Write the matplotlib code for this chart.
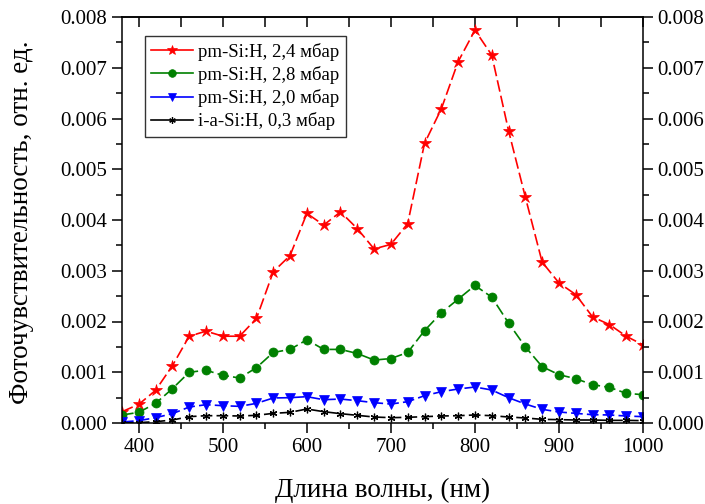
import numpy as np
import matplotlib
matplotlib.use('Agg')
import matplotlib.pyplot as plt
from matplotlib.lines import Line2D
from matplotlib.ticker import MultipleLocator

plt.rcParams['font.family'] = ['Liberation Serif', 'DejaVu Serif']

# длины волн, нм
wl = [380, 400, 420, 440, 460, 480, 500, 520, 540, 560, 580, 600, 620, 640, 660, 680,
      700, 720, 740, 760, 780, 800, 820, 840, 860, 880, 900, 920, 940, 960, 980, 1000]

pm24 = [0.000223, 0.000368, 0.000644, 0.00113, 0.00171, 0.00181, 0.00171, 0.00171,
        0.00206, 0.00298, 0.00330, 0.00413, 0.00390, 0.00416, 0.00383, 0.00343,
        0.00352, 0.00393, 0.00551, 0.00619, 0.00712, 0.00774, 0.00725, 0.00576,
        0.00445, 0.00317, 0.00276, 0.00253, 0.00209, 0.00194, 0.00171, 0.00154]

pm28 = [0.000158, 0.000210, 0.000387, 0.000677, 0.00100, 0.00104, 0.000939, 0.000887,
        0.00109, 0.00139, 0.00145, 0.00164, 0.00145, 0.00145, 0.00137, 0.00124,
        0.00127, 0.00139, 0.00182, 0.00217, 0.00244, 0.00271, 0.00248, 0.00197,
        0.00150, 0.00111, 0.000952, 0.000873, 0.000755, 0.000703, 0.000585, 0.000558]

pm20 = [0.00002, 0.000046, 0.000105, 0.000184, 0.000315, 0.000361, 0.000341, 0.000328,
        0.000387, 0.000493, 0.000499, 0.000519, 0.000459, 0.000472, 0.000440, 0.000400,
        0.000374, 0.000420, 0.000538, 0.000617, 0.000670, 0.000709, 0.000650, 0.000499,
        0.000374, 0.000269, 0.000217, 0.000190, 0.000164, 0.000158, 0.000138, 0.000125]

ia03 = [0.000003, 0.000007, 0.000026, 0.000059, 0.000125, 0.000144, 0.000144, 0.000138,
        0.000151, 0.000190, 0.000210, 0.000276, 0.000223, 0.000184, 0.000151, 0.000118,
        0.000105, 0.000112, 0.000125, 0.000138, 0.000144, 0.000158, 0.000144, 0.000118,
        0.000099, 0.000072, 0.000066, 0.000059, 0.000059, 0.000052, 0.000052, 0.000046]

labels = ['pm-Si:H, 2,4 мбар', 'pm-Si:H, 2,8 мбар', 'pm-Si:H, 2,0 мбар', 'i-a-Si:H, 0,3 мбар']

fig = plt.figure(figsize=(7.05, 5.04), dpi=100)
ax = fig.add_axes([122/705, 81/504, 521/705, 406/504])

dash = (0, (7, 2.5))
styles = [
    (pm24, 'red', '*', 9),
    (pm28, 'green', 'o', 6.5),
    (pm20, 'blue', 'v', 7.5),
    (ia03, 'black', (6, 2, 0), 5.5),
]
handles = []
for (y, c, m, ms), lab in zip(styles, labels):
    mew = 0.9 if m == (6, 2, 0) else 0.5
    ax.plot(wl, y, color=c, marker=m, markersize=ms, linestyle=dash, linewidth=1.2,
            markeredgewidth=mew)
    handles.append(Line2D([], [], color=c, marker=m, markersize=ms * 0.85, linewidth=1.2,
                          markeredgewidth=mew))

ax.set_xlim(380, 1000)
ax.set_ylim(0, 0.008)
ax.xaxis.set_major_locator(MultipleLocator(100))
ax.xaxis.set_minor_locator(MultipleLocator(50))
ax.yaxis.set_major_locator(MultipleLocator(0.001))
ax.yaxis.set_minor_locator(MultipleLocator(0.0005))
ax.yaxis.set_major_formatter(plt.FormatStrFormatter('%.3f'))

for s in ax.spines.values():
    s.set_linewidth(1.1)

ax.tick_params(axis='both', which='major', direction='out', length=7, width=1.1, labelsize=15)
ax.tick_params(axis='both', which='minor', direction='out', length=4, width=1.1)
ax.tick_params(axis='y', which='both', right=True, labelright=True)
ax.tick_params(axis='x', which='both', top=False)

top = ax.secondary_xaxis('top')
top.xaxis.set_major_locator(MultipleLocator(50))
top.tick_params(direction='in', length=7, width=1.1, labeltop=False)
top.spines['top'].set_linewidth(1.1)

ax.set_xlabel('Длина волны, (нм)', fontsize=19.5, va='center')
ax.xaxis.set_label_coords(0.5, -0.165)
ax.set_ylabel('Фоточувствительность, отн. ед.', fontsize=19.5, va='center')
ax.yaxis.set_label_coords(-0.192, 0.495)

leg = ax.legend(handles, labels, loc='upper left', bbox_to_anchor=(0.044, 0.953),
                borderaxespad=0, fontsize=13.5, fancybox=False, edgecolor='black',
                handlelength=2.2, handletextpad=0.3, labelspacing=0.28, borderpad=0.35)
leg.get_frame().set_linewidth(1.0)

fig.savefig('out.png', dpi=100)
